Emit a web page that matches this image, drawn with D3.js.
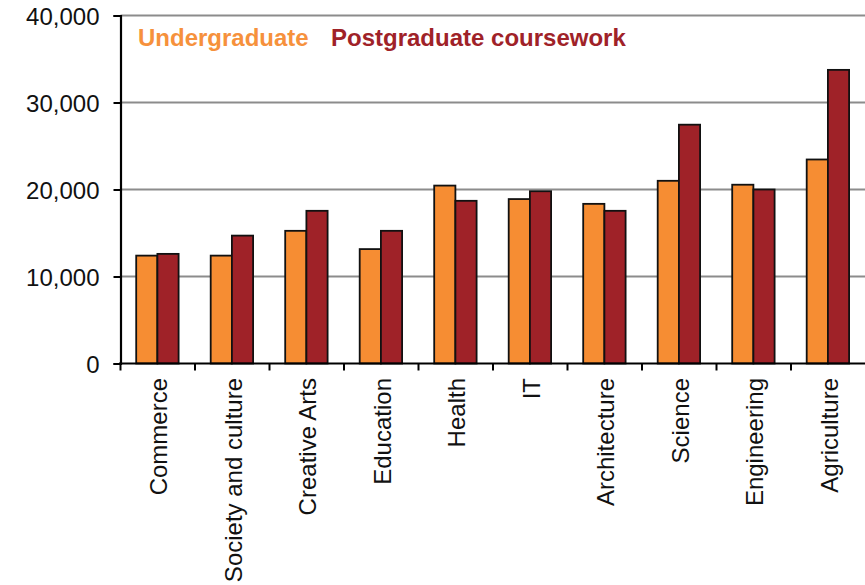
<!DOCTYPE html>
<html>
<head>
<meta charset="utf-8">
<script src="https://cdn.jsdelivr.net/npm/d3@7"></script>
<style>
  html, body { margin: 0; padding: 0; background: #fff; }
  svg { display: block; }
  text { font-family: "Liberation Sans", Arial, sans-serif; }
</style>
</head>
<body>
<svg id="chart" width="865" height="585"></svg>
<script>
const categories = ["Commerce", "Society and culture", "Creative Arts", "Education", "Health", "IT", "Architecture", "Science", "Engineering", "Agriculture"];
const series = ["Undergraduate", "Postgraduate coursework"];
const undergraduate = [12400, 12400, 15250, 13150, 20450, 18900, 18350, 21000, 20550, 23450];
const postgraduate = [12600, 14700, 17550, 15250, 18700, 19800, 17550, 27450, 20000, 33750];
const yTicks = [0, 10000, 20000, 30000, 40000];
const colors = ["#F68D33", "#9F2228"];
const legendColors = ["#F6913C", "#9F2228"];

const svg = d3.select("#chart");
const plotLeft = 120.5, plotRight = 865, plotTop = 15.5, plotBottom = 363.5;

const x = d3.scaleBand().domain(categories).range([120, 865]).paddingInner(0).paddingOuter(0);
const x1 = d3.scaleBand().domain(series).range([16.2, 58.6]).padding(0);
const y = d3.scaleLinear().domain([0, 40000]).range([plotBottom, plotTop]);

// gridlines
svg.append("g").selectAll("line").data(yTicks.filter(d => d > 0)).join("line")
  .attr("x1", plotLeft).attr("x2", plotRight)
  .attr("y1", d => y(d)).attr("y2", d => y(d))
  .attr("stroke", "#8c8c8c").attr("stroke-width", 2);

// bars
const data = categories.map((c, i) => ({ cat: c, vals: [undergraduate[i], postgraduate[i]] }));
const groups = svg.append("g").selectAll("g").data(data).join("g")
  .attr("transform", d => `translate(${x(d.cat)},0)`);
groups.selectAll("rect").data(d => d.vals.map((v, j) => ({ s: series[j], v, j }))).join("rect")
  .attr("x", d => x1(d.s))
  .attr("width", x1.bandwidth())
  .attr("y", d => y(d.v))
  .attr("height", d => plotBottom - y(d.v))
  .attr("fill", d => colors[d.j])
  .attr("stroke", "#111").attr("stroke-width", 1.8);

// y axis
const yAxis = d3.axisLeft(y).tickValues(yTicks).tickSize(7).tickPadding(14)
  .tickFormat(d3.format(","));
const gy = svg.append("g").attr("transform", `translate(${plotLeft},0)`).call(yAxis);
gy.select(".domain").attr("stroke", "#000").attr("stroke-width", 2.2);
gy.selectAll(".tick line").attr("stroke", "#000").attr("stroke-width", 2);
gy.selectAll(".tick text").attr("font-size", 24).attr("fill", "#111")
  .attr("font-family", "Liberation Sans, Arial, sans-serif").attr("dy", "0.36em");

// x axis line and ticks
const gx = svg.append("g");
gx.append("line").attr("x1", 119).attr("x2", 865).attr("y1", plotBottom).attr("y2", plotBottom)
  .attr("stroke", "#000").attr("stroke-width", 2);
gx.selectAll("line.tk").data(categories).join("line").attr("class", "tk")
  .attr("x1", d => x(d) + 0.5).attr("x2", d => x(d) + 0.5)
  .attr("y1", plotBottom).attr("y2", plotBottom + 7)
  .attr("stroke", "#000").attr("stroke-width", 2);
gx.selectAll("text").data(categories).join("text")
  .attr("transform", d => `translate(${x(d) + x.bandwidth() / 2 + 10},378) rotate(-90)`)
  .attr("text-anchor", "end")
  .attr("font-size", 24).attr("fill", "#111")
  .text(d => d);

// legend
const legendX = [138, 331];
svg.append("g").selectAll("text").data(series).join("text")
  .attr("x", (d, i) => legendX[i]).attr("y", 46)
  .attr("font-size", 24).attr("font-weight", "bold")
  .attr("fill", (d, i) => legendColors[i])
  .text(d => d);
</script>
</body>
</html>
